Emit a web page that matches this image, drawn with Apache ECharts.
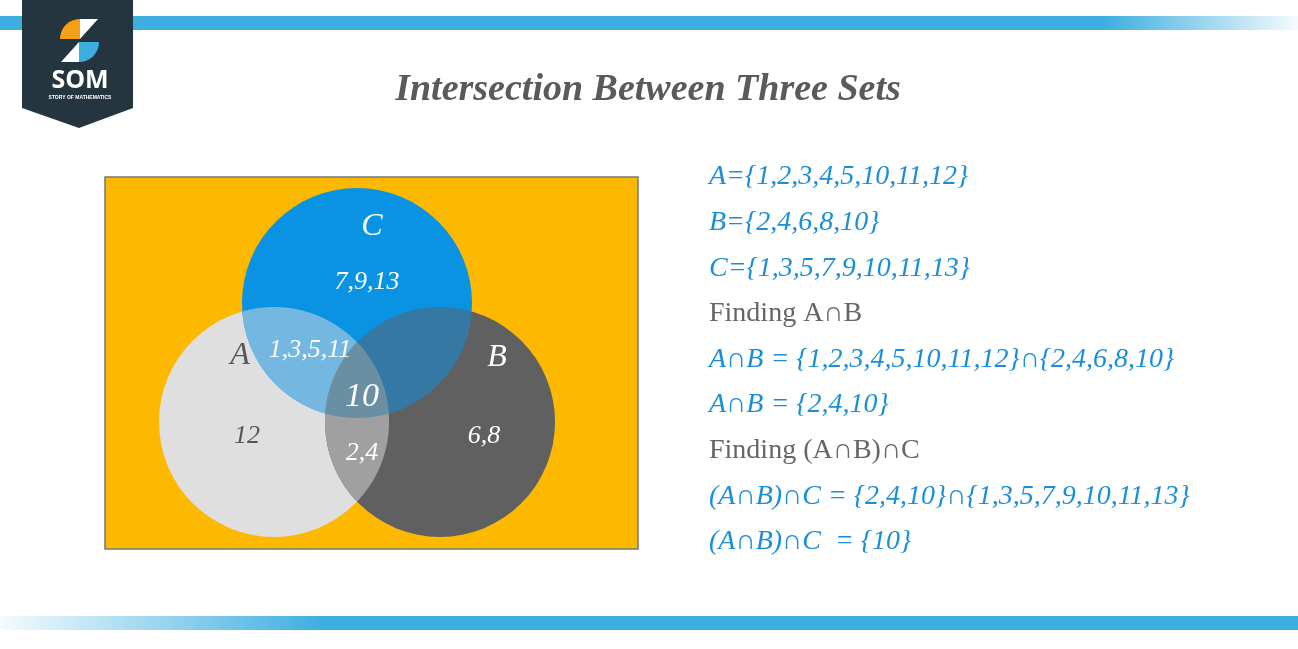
<!DOCTYPE html>
<html><head><meta charset="utf-8">
<script src="https://cdn.jsdelivr.net/npm/echarts@6/dist/echarts.min.js"></script>
<style>html,body{margin:0;padding:0;background:#fff}#c{width:1298px;height:649px}</style>
</head><body><div id="c"></div>
<script>
const title = 'Intersection Between Three Sets';
const setNames = ['A', 'B', 'C'];
const regionLabels = ['12', '6,8', '7,9,13', '1,3,5,11', '2,4', '10'];
const textLines = [
  'A={1,2,3,4,5,10,11,12}',
  'B={2,4,6,8,10}',
  'C={1,3,5,7,9,10,11,13}',
  'Finding A∩B',
  'A∩B = {1,2,3,4,5,10,11,12}∩{2,4,6,8,10}',
  'A∩B = {2,4,10}',
  'Finding (A∩B)∩C',
  '(A∩B)∩C = {2,4,10}∩{1,3,5,7,9,10,11,13}',
  '(A∩B)∩C  = {10}'
];
const textIsHeading = [0,0,0,1,0,0,1,0,0];

// layout
const circles = [ {cx:274, cy:422, r:115}, {cx:440, cy:422, r:115}, {cx:357, cy:303, r:115} ];
const circleColors = ['#e0dfe0', '#606060', '#0a93e2'];
const regionDefs = [
  {sets:[0,2], color:'#74b7e0'},
  {sets:[1,2], color:'#3578a3'},
  {sets:[0,1], color:'#a0a0a0'},
  {sets:[0,1,2], color:'#6a8fa3'}
];
const regionPos = [[247,436,'#555'],[484,436,'#fff'],[367,282,'#fff'],[310,350,'#fff'],[362,453,'#fff'],[362,397,'#fff']];
const regionSize = [26,26,26,26,26,34];
const namePos = [[240,356,'#555'],[497,358,'#fff'],[372,227,'#fff']];

function inter(ids){
  let px=0,py=0; ids.forEach(i=>{px+=circles[i].cx;py+=circles[i].cy}); px/=ids.length; py/=ids.length;
  const pts=[];
  for(let k=0;k<720;k++){
    const t=k/720*2*Math.PI, dx=Math.cos(t), dy=Math.sin(t);
    let m=Infinity;
    ids.forEach(i=>{const c=circles[i]; const fx=px-c.cx, fy=py-c.cy;
      const b=fx*dx+fy*dy, cc=fx*fx+fy*fy-c.r*c.r; const s=-b+Math.sqrt(b*b-cc); if(s<m)m=s;});
    pts.push([px+dx*m, py+dy*m]);
  }
  return pts;
}
const font='"Liberation Serif", "DejaVu Serif", serif';
const g=[];
g.push({type:'rect',shape:{x:0,y:16,width:1298,height:14},style:{fill:new echarts.graphic.LinearGradient(0,0,1,0,[{offset:0,color:'#3daee0'},{offset:0.85,color:'#3daee0'},{offset:1,color:'rgba(61,174,224,0.05)'}])}});
g.push({type:'rect',shape:{x:0,y:616,width:1298,height:14},style:{fill:new echarts.graphic.LinearGradient(0,0,1,0,[{offset:0,color:'rgba(61,174,224,0.05)'},{offset:0.25,color:'#3daee0'},{offset:1,color:'#3daee0'}])}});
g.push({type:'polygon',shape:{points:[[22,0],[133,0],[133,108],[79,128],[22,108]]},style:{fill:'#253540'}});
g.push({type:'sector',shape:{cx:80,cy:39,r0:0,r:20,startAngle:Math.PI,endAngle:Math.PI*1.5},style:{fill:'#f5a117'}});
g.push({type:'polygon',shape:{points:[[80,19],[98,19],[80,39]]},style:{fill:'#fff'}});
g.push({type:'sector',shape:{cx:79,cy:42,r0:0,r:20,startAngle:0,endAngle:Math.PI/2},style:{fill:'#3daee0'}});
g.push({type:'polygon',shape:{points:[[79,42],[79,62],[61,62]]},style:{fill:'#fff'}});
g.push({type:'text',style:{x:80,y:81,text:'SOM',fill:'#fff',font:'bold 25px "Open Sans", sans-serif',align:'center',verticalAlign:'middle'}});
g.push({type:'text',style:{x:80,y:98,text:'STORY OF MATHEMATICS',fill:'#fff',font:'bold 5px sans-serif',align:'center',verticalAlign:'middle'}});
g.push({type:'text',style:{x:648,y:90,text:title,fill:'#5a5a5a',font:'italic bold 38px '+font,align:'center',verticalAlign:'middle'}});
g.push({type:'rect',shape:{x:105,y:177,width:533,height:372},style:{fill:'#fcb900',stroke:'#777',lineWidth:1.5}});
circles.forEach((c,i)=>g.push({type:'circle',shape:{cx:c.cx,cy:c.cy,r:c.r},style:{fill:circleColors[i]}}));
regionDefs.forEach(d=>g.push({type:'polygon',shape:{points:inter(d.sets)},style:{fill:d.color}}));
regionLabels.forEach((t,i)=>g.push({type:'text',style:{x:regionPos[i][0],y:regionPos[i][1],text:t,fill:regionPos[i][2],font:'italic '+regionSize[i]+'px '+font,align:'center',verticalAlign:'middle'}}));
setNames.forEach((t,i)=>g.push({type:'text',style:{x:namePos[i][0],y:namePos[i][1],text:t,fill:namePos[i][2],font:'italic 32px '+font,align:'center',verticalAlign:'middle'}}));
textLines.forEach((t,i)=>g.push({type:'text',style:{x:709,y:177+i*45.6,text:t,fill:textIsHeading[i]?'#666':'#1a8fd8',font:(textIsHeading[i]?'':'italic ')+'28px '+font,align:'left',verticalAlign:'middle'}}));

const chart=echarts.init(document.getElementById('c'));
chart.setOption({animation:false,graphic:{elements:g}});
</script></body></html>
